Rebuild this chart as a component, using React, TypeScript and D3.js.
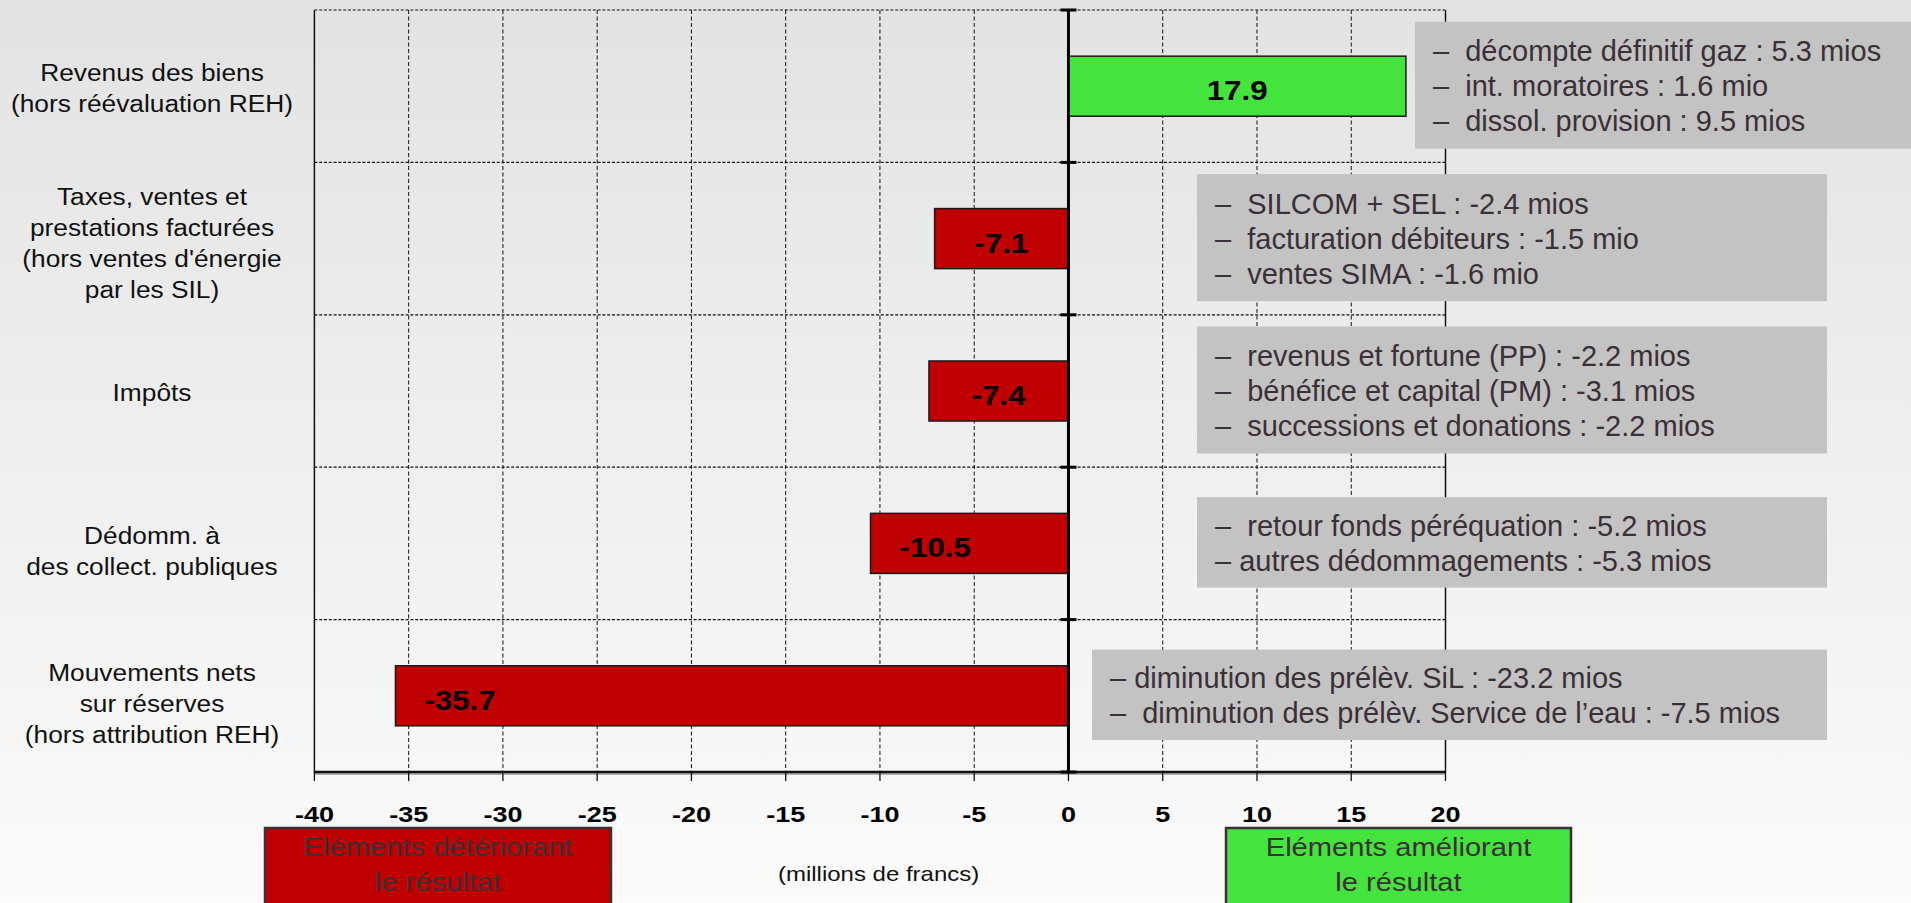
import React from "react";
import * as d3 from "d3";

// ---------- data ----------
const categories: string[][] = [
  ["Revenus des biens", "(hors réévaluation REH)"],
  ["Taxes, ventes et", "prestations facturées", "(hors ventes d'énergie", "par les SIL)"],
  ["Impôts"],
  ["Dédomm. à", "des collect. publiques"],
  ["Mouvements nets", "sur réserves", "(hors attribution REH)"],
];
const values: number[] = [17.9, -7.1, -7.4, -10.5, -35.7];
const valueLabels: string[] = ["17.9", "-7.1", "-7.4", "-10.5", "-35.7"];
const details: string[][] = [
  ["–  décompte définitif gaz : 5.3 mios", "–  int. moratoires : 1.6 mio", "–  dissol. provision : 9.5 mios"],
  ["–  SILCOM + SEL : -2.4 mios", "–  facturation débiteurs : -1.5 mio", "–  ventes SIMA : -1.6 mio"],
  ["–  revenus et fortune (PP) : -2.2 mios", "–  bénéfice et capital (PM) : -3.1 mios", "–  successions et donations : -2.2 mios"],
  ["–  retour fonds péréquation : -5.2 mios", "– autres dédommagements : -5.3 mios"],
  ["– diminution des prélèv. SiL : -23.2 mios", "–  diminution des prélèv. Service de l’eau : -7.5 mios"],
];
const xTicks: number[] = [-40, -35, -30, -25, -20, -15, -10, -5, 0, 5, 10, 15, 20];
const legendLabels: string[][] = [
  ["Eléments détériorant", "le résultat"],
  ["Eléments améliorant", "le résultat"],
];
const axisTitle = "(millions de francs)";

// ---------- layout / style ----------
const W = 1911;
const H = 903;
const PL = 314.4, PR = 1445.5, PT = 10, PB = 772;
const FONT = "'Liberation Sans', Arial, Helvetica, sans-serif";
const RED = "#c00000";
const GREEN = "#45e33d";
const NOTE_FILL = "#c3c3c3";
const NOTE_TEXT = "#3b3037";
const noteLeft = [1415, 1197, 1197, 1197, 1092];
const noteRight = [1911, 1827, 1827, 1827, 1827];
const labelShift = [0, 3, 0, 6, 6];
const legendBoxes = [
  { x0: 265, x1: 611, fill: RED },
  { x0: 1226, x1: 1571, fill: GREEN },
];

function SText(props: {
  x: number; y: number; sx?: number; size: number; anchor?: string;
  weight?: string | number; fill?: string; children: React.ReactNode;
}) {
  const { x, y, sx = 1, size, anchor = "start", weight = "normal", fill = "#1a1a1a" } = props;
  return (
    <text
      transform={`translate(${x},${y}) scale(${sx},1)`}
      fontFamily={FONT}
      fontSize={size}
      fontWeight={weight}
      textAnchor={anchor}
      fill={fill}
      xmlSpace="preserve"
      style={{ whiteSpace: "pre" }}
    >
      {props.children}
    </text>
  );
}

export default function App() {
  const x = d3.scaleLinear().domain([-40, 20]).range([PL, PR]);
  const idx = categories.map((_, i) => String(i));
  const pad = 0.606;
  const y = d3.scaleBand().domain(idx).range([PT, PB]).paddingInner(pad).paddingOuter(pad / 2);
  const step = y.step();
  const rowTop = (i: number) => (y(String(i)) as number) - (step * pad) / 2;
  const rowCenter = (i: number) => (y(String(i)) as number) + y.bandwidth() / 2;
  const boundaries = d3.range(categories.length + 1).map((i) => PT + i * step);

  return (
    <div style={{ position: "absolute", left: 0, top: 0, width: W, height: H }}>
      <svg width={W} height={H} style={{ display: "block" }}>
        <defs>
          <linearGradient id="bg" x1="0" y1="0" x2="0" y2="1">
            <stop offset="0" stopColor="#e3e3e3" />
            <stop offset="1" stopColor="#fbfbfb" />
          </linearGradient>
        </defs>
        <rect x={0} y={0} width={W} height={H} fill="url(#bg)" />

        {/* vertical gridlines */}
        {xTicks.filter((t) => t > -40 && t < 20 && t !== 0).map((t) => (
          <line key={"vg" + t} x1={x(t)} x2={x(t)} y1={PT} y2={PB} stroke="#111" strokeWidth={1} strokeDasharray="4 2.5" />
        ))}
        {/* horizontal gridlines (incl. top border) */}
        {boundaries.slice(0, -1).map((b, i) => (
          <line key={"hg" + i} x1={PL} x2={PR} y1={b} y2={b} stroke="#111" strokeWidth={1.2} strokeDasharray="3 1.8" />
        ))}
        {/* frame */}
        <line x1={PL} x2={PL} y1={PT} y2={PB} stroke="#111" strokeWidth={1.5} />
        <line x1={PR} x2={PR} y1={PT} y2={PB} stroke="#111" strokeWidth={1.5} />
        <line x1={PL} x2={PR} y1={PB + 2} y2={PB + 2} stroke="#9a9a9a" strokeWidth={1.5} />
        <line x1={PL} x2={PR} y1={PB} y2={PB} stroke="#111" strokeWidth={2.5} />
        {/* x ticks */}
        {xTicks.map((t) => (
          <line key={"xt" + t} x1={x(t)} x2={x(t)} y1={PB} y2={PB + 9} stroke="#111" strokeWidth={1.3} />
        ))}
        {xTicks.map((t) => (
          <SText key={"xl" + t} x={x(t)} y={821.5} size={22.5} sx={1.2} anchor="middle" weight="bold" fill="#000">
            {String(t)}
          </SText>
        ))}

        {/* bars */}
        {values.map((v, i) => {
          const x0 = x(Math.min(0, v));
          const x1 = x(Math.max(0, v));
          return (
            <rect key={"bar" + i} x={x0} y={y(String(i))} width={x1 - x0} height={y.bandwidth()}
              fill={v >= 0 ? GREEN : RED} stroke="#1a1a1a" strokeWidth={1.5} />
          );
        })}

        {/* zero axis */}
        <line x1={x(0)} x2={x(0)} y1={PT} y2={PB} stroke="#000" strokeWidth={3} />
        {boundaries.map((b, i) => (
          <line key={"zt" + i} x1={x(0) - 8} x2={x(0) + 8} y1={b} y2={b} stroke="#000" strokeWidth={3} />
        ))}

        {/* bar labels */}
        {values.map((v, i) => {
          const x0 = x(Math.min(0, v));
          const x1 = x(Math.max(0, v));
          const wide = x1 - x0 > 150 && v < 0;
          return (
            <SText key={"bl" + i} x={wide ? x0 + 29 : (x0 + x1) / 2} y={rowCenter(i) + 14} size={28} sx={1.12}
              anchor={wide ? "start" : "middle"} weight="bold" fill="#000">
              {valueLabels[i]}
            </SText>
          );
        })}

        {/* category labels */}
        {categories.map((lines, i) => {
          const lh = 31;
          const c = rowTop(i) + step / 2 + 10 + labelShift[i];
          return lines.map((l, j) => (
            <SText key={"cl" + i + "-" + j} x={152} y={c + (j - (lines.length - 1) / 2) * lh} size={23.5} sx={1.12} anchor="middle" fill="#111">
              {l}
            </SText>
          ));
        })}

        {/* note boxes */}
        {details.map((lines, i) => {
          const h = lines.length * 36.5 + 17.5;
          const c = rowCenter(i);
          const lh = 35;
          return (
            <g key={"note" + i}>
              <rect x={noteLeft[i]} y={c - h / 2 - 1} width={noteRight[i] - noteLeft[i]} height={h} fill={NOTE_FILL} />
              {lines.map((l, j) => (
                <SText key={j} x={noteLeft[i] + 18} y={c + 10 + (j - (lines.length - 1) / 2) * lh} size={29} fill={NOTE_TEXT}>
                  {l}
                </SText>
              ))}
            </g>
          );
        })}

        {/* legend boxes */}
        {legendBoxes.map((b, i) => (
          <g key={"lg" + i}>
            <rect x={b.x0} y={828} width={b.x1 - b.x0} height={H - 828 + 4} fill={b.fill} stroke={NOTE_TEXT} strokeWidth={2.5} />
            {legendLabels[i].map((l, j) => (
              <SText key={j} x={(b.x0 + b.x1) / 2} y={855.5 + j * 35.5} size={26.5} sx={1.1} anchor="middle" fill={NOTE_TEXT}>
                {l}
              </SText>
            ))}
          </g>
        ))}
        <SText x={878.6} y={880.5} size={20} sx={1.2} anchor="middle" fill="#111">
          {axisTitle}
        </SText>
      </svg>
    </div>
  );
}
